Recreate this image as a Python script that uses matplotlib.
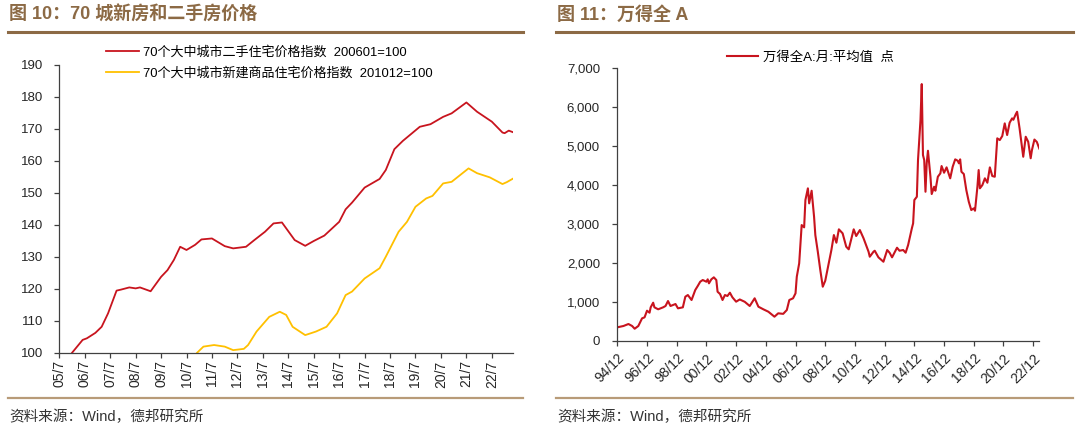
import matplotlib
matplotlib.use("Agg")
import matplotlib.pyplot as plt
import matplotlib.ticker as mticker
from matplotlib.lines import Line2D
import pandas as pd

plt.rcParams['font.family'] = ['Liberation Sans', 'Noto Sans CJK SC']
plt.rcParams['axes.unicode_minus'] = False

# ---- 图10 data: 70 city house price indices ----
red_dates = ["2006-01", "2006-06", "2006-08", "2006-12", "2007-03", "2007-06", "2007-10", "2007-12",
             "2008-04", "2008-07", "2008-09", "2009-02", "2009-07", "2009-10", "2010-01", "2010-04",
             "2010-07", "2010-11", "2011-02", "2011-07", "2012-01", "2012-05", "2012-11", "2013-03",
             "2013-08", "2013-12", "2014-04", "2014-10", "2015-03", "2015-07", "2015-12", "2016-07",
             "2016-10", "2017-01", "2017-07", "2018-02", "2018-05", "2018-09", "2019-01", "2019-09",
             "2020-02", "2020-08", "2020-12", "2021-07", "2021-12", "2022-07", "2022-12", "2023-01",
             "2023-03", "2023-05"]
red_vals = [100.0, 104.0, 104.5, 106.2, 108.1, 112.3, 119.4, 119.7,
            120.4, 120.1, 120.4, 119.2, 123.7, 125.8, 129.0, 133.1,
            132.1, 133.7, 135.4, 135.7, 133.3, 132.6, 133.1, 135.2,
            137.8, 140.4, 140.7, 135.2, 133.4, 134.9, 136.6, 140.9,
            144.8, 146.9, 151.6, 154.3, 157.1, 163.6, 166.2, 170.6,
            171.4, 173.7, 174.8, 178.2, 175.3, 172.2, 168.8, 168.6,
            169.4, 168.9]
red_label = "70个大中城市二手住宅价格指数  200601=100"

yel_dates = ["2010-12", "2011-03", "2011-08", "2012-01", "2012-05", "2012-10", "2012-12", "2013-04",
             "2013-10", "2014-03", "2014-06", "2014-09", "2015-03", "2015-08", "2016-01", "2016-06",
             "2016-10", "2017-01", "2017-07", "2018-02", "2018-05", "2018-11", "2019-03", "2019-07",
             "2019-12", "2020-03", "2020-08", "2020-12", "2021-08", "2021-12", "2022-06", "2022-12",
             "2023-02", "2023-05"]
yel_vals = [100.0, 101.9, 102.4, 101.9, 100.8, 101.2, 102.4, 106.6,
            111.2, 112.8, 111.8, 108.1, 105.5, 106.6, 108.1, 112.3,
            118.0, 119.1, 123.2, 126.4, 130.0, 137.8, 140.9, 145.6,
            148.2, 149.0, 152.9, 153.4, 157.6, 156.1, 154.8, 152.7,
            153.3, 154.4]
yel_label = "70个大中城市新建商品住宅价格指数  201012=100"

# ---- 图11 data: Wind all A monthly average ----
wind_dates = ["1994-12", "1995-05", "1995-09", "1995-12", "1996-02", "1996-05", "1996-08", "1996-10",
              "1996-12", "1997-02", "1997-03", "1997-05", "1997-06", "1997-09", "1998-01", "1998-03",
              "1998-05", "1998-07", "1998-11", "1999-01", "1999-05", "1999-07", "1999-09", "1999-12",
              "2000-03", "2000-05", "2000-07", "2000-09", "2000-12", "2001-01", "2001-02", "2001-04",
              "2001-06", "2001-08", "2001-09", "2001-11", "2002-01", "2002-03", "2002-05", "2002-07",
              "2002-09", "2002-12", "2003-03", "2003-07", "2003-11", "2004-03", "2004-06", "2004-10",
              "2005-02", "2005-07", "2005-10", "2006-02", "2006-05", "2006-07", "2006-10", "2006-12",
              "2007-01", "2007-03", "2007-05", "2007-07", "2007-08", "2007-10", "2007-11", "2008-01",
              "2008-03", "2008-04", "2008-06", "2008-08", "2008-10", "2008-12", "2009-02", "2009-05",
              "2009-07", "2009-09", "2009-11", "2010-02", "2010-05", "2010-07", "2010-11", "2011-01",
              "2011-04", "2011-07", "2011-11", "2011-12", "2012-03", "2012-04", "2012-07", "2012-11",
              "2013-02", "2013-04", "2013-06", "2013-10", "2013-12", "2014-03", "2014-05", "2014-07",
              "2014-10", "2014-11", "2014-12", "2015-02", "2015-03", "2015-05", "2015-06", "2015-07",
              "2015-08", "2015-09", "2015-10", "2015-11", "2016-01", "2016-02", "2016-04", "2016-05",
              "2016-07", "2016-09", "2016-10", "2016-12", "2017-02", "2017-05", "2017-07", "2017-09",
              "2017-11", "2017-12", "2018-01", "2018-02", "2018-04", "2018-06", "2018-08", "2018-10",
              "2018-12", "2019-01", "2019-03", "2019-04", "2019-05", "2019-07", "2019-09", "2019-11",
              "2020-01", "2020-03", "2020-05", "2020-06", "2020-07", "2020-09", "2020-11", "2021-01",
              "2021-03", "2021-05", "2021-07", "2021-08", "2021-10", "2021-11", "2022-01", "2022-03",
              "2022-04", "2022-06", "2022-08", "2022-10", "2022-11", "2023-01", "2023-03", "2023-05"]
wind_vals = [344, 378, 429, 378, 308, 378, 575, 600,
             771, 720, 858, 977, 858, 807, 858, 892,
             1020, 892, 943, 832, 858, 1131, 1174, 1046,
             1303, 1406, 1516, 1560, 1516, 1578, 1475, 1578,
             1629, 1560, 1259, 1200, 1046, 1174, 1149, 1234,
             1115, 1003, 1060, 1000, 892, 1090, 874, 807,
             745, 617, 704, 690, 789, 1046, 1090, 1218,
             1645, 1989, 2973, 2914, 3616, 3916, 3531, 3855,
             3187, 2716, 2287, 1817, 1388, 1542, 1861, 2331,
             2716, 2519, 2863, 2760, 2416, 2349, 2863, 2691,
             2845, 2632, 2287, 2159, 2287, 2313, 2143, 2030,
             2331, 2262, 2143, 2390, 2313, 2331, 2262, 2460,
             2889, 3017, 3616, 3701, 4644, 5672, 6597, 4772,
             4644, 3829, 4559, 4883, 4215, 3770, 3958, 3855,
             4215, 4302, 4490, 4318, 4456, 4174, 4472, 4662,
             4626, 4560, 4662, 4343, 4284, 3873, 3572, 3359,
             3402, 3341, 3958, 4387, 3917, 4001, 4174, 4061,
             4456, 4233, 4215, 4729, 5202, 5158, 5261, 5587,
             5287, 5603, 5715, 5680, 5826, 5885, 5458, 4986,
             4729, 5243, 5114, 4690, 4900, 5171, 5110, 4940]
wind_label = "万得全A:月:平均值  点"

title_left = "图 10：70 城新房和二手房价格"
title_right = "图 11：万得全 A"
source_text = "资料来源：Wind，德邦研究所"

W, H = 1080, 437
RED = "#C8141E"
YELLOW = "#FFC000"
BROWN = "#8C6A45"
TAN = "#B89B78"
SPINE = "#404040"


def fx(px):
    return px / W


def fy(py):
    return 1 - py / H


def style_axes(ax):
    for s in ["top", "right"]:
        ax.spines[s].set_visible(False)
    for s in ["left", "bottom"]:
        ax.spines[s].set_color(SPINE)
        ax.spines[s].set_linewidth(0.9)
    ax.tick_params(axis="both", direction="out", length=3.5, width=0.9, color=SPINE,
                   labelcolor="#262626")


def main():
    fig = plt.figure(figsize=(W / 100, H / 100), dpi=100)

    # titles and separator lines
    for x0, x1, title in [(8, 523, title_left), (556, 1073, title_right)]:
        fig.text(fx(x0 + 1), fy(15), title, fontsize=13, fontweight="bold", color=BROWN,
                 ha="left", va="center")
        fig.add_artist(Line2D([fx(x0), fx(x1)], [fy(32), fy(32)], color=BROWN, lw=2.2))
        fig.add_artist(Line2D([fx(x0), fx(x1)], [fy(398), fy(398)], color=TAN, lw=1.6))
        fig.text(fx(x0 + 1), fy(417), source_text, fontsize=10.5, color="#333333",
                 ha="left", va="center")

    # ---- left chart ----
    ax1 = fig.add_axes([fx(59.3), fy(352.7), fx(513 - 59.3), (352.7 - 64.7) / H])
    style_axes(ax1)
    ax1.plot(pd.to_datetime(red_dates), red_vals, color=RED, lw=1.3, label=red_label)
    ax1.plot(pd.to_datetime(yel_dates), yel_vals, color=YELLOW, lw=1.3, label=yel_label)
    ax1.set_xlim(pd.Timestamp("2005-07-01"), pd.Timestamp("2023-05-01"))
    ax1.set_ylim(100, 190)
    ax1.set_yticks(range(100, 191, 10))
    left_ticks = pd.date_range("2005-07-01", "2022-07-01", freq="12MS")
    ax1.set_xticks(left_ticks)
    ax1.set_xticklabels([f"{d.year % 100:02d}/{d.month}" for d in left_ticks],
                        rotation=90, fontsize=10)
    ax1.tick_params(axis="y", labelsize=9.5, pad=8)
    ax1.tick_params(axis="x", pad=2)
    ax1.legend(loc="upper left", bbox_to_anchor=(fx(106), fy(46)), bbox_transform=fig.transFigure,
               frameon=False, fontsize=9.4, handlelength=2.5, handletextpad=0.35,
               labelspacing=0.6, borderpad=0, borderaxespad=0)

    # ---- right chart ----
    ax2 = fig.add_axes([fx(617.3), fy(340.7), fx(1039.3 - 617.3), (340.7 - 68.4) / H])
    style_axes(ax2)
    ax2.plot(pd.to_datetime(wind_dates), wind_vals, color=RED, lw=1.5, label=wind_label)
    ax2.set_xlim(pd.Timestamp("1994-12-01"), pd.Timestamp("2023-05-01"))
    ax2.set_ylim(0, 7000)
    ax2.set_yticks(range(0, 7001, 1000))
    ax2.yaxis.set_major_formatter(mticker.FuncFormatter(lambda v, p: f"{int(v):,}"))
    right_ticks = pd.date_range("1994-12-01", "2022-12-01", freq="24MS")
    ax2.set_xticks(right_ticks)
    ax2.set_xticklabels([f"{d.year % 100:02d}/{d.month}" for d in right_ticks],
                        rotation=45, ha="right", rotation_mode="anchor", fontsize=10)
    ax2.tick_params(axis="y", labelsize=9.5, pad=9)
    ax2.tick_params(axis="x", pad=4)
    ax2.legend(loc="upper left", bbox_to_anchor=(fx(727), fy(51)), bbox_transform=fig.transFigure,
               frameon=False, fontsize=9.6, handlelength=2.3, handletextpad=0.4,
               borderpad=0, borderaxespad=0)

    fig.savefig("out.png", dpi=100)


if __name__ == '__main__':
    main()
